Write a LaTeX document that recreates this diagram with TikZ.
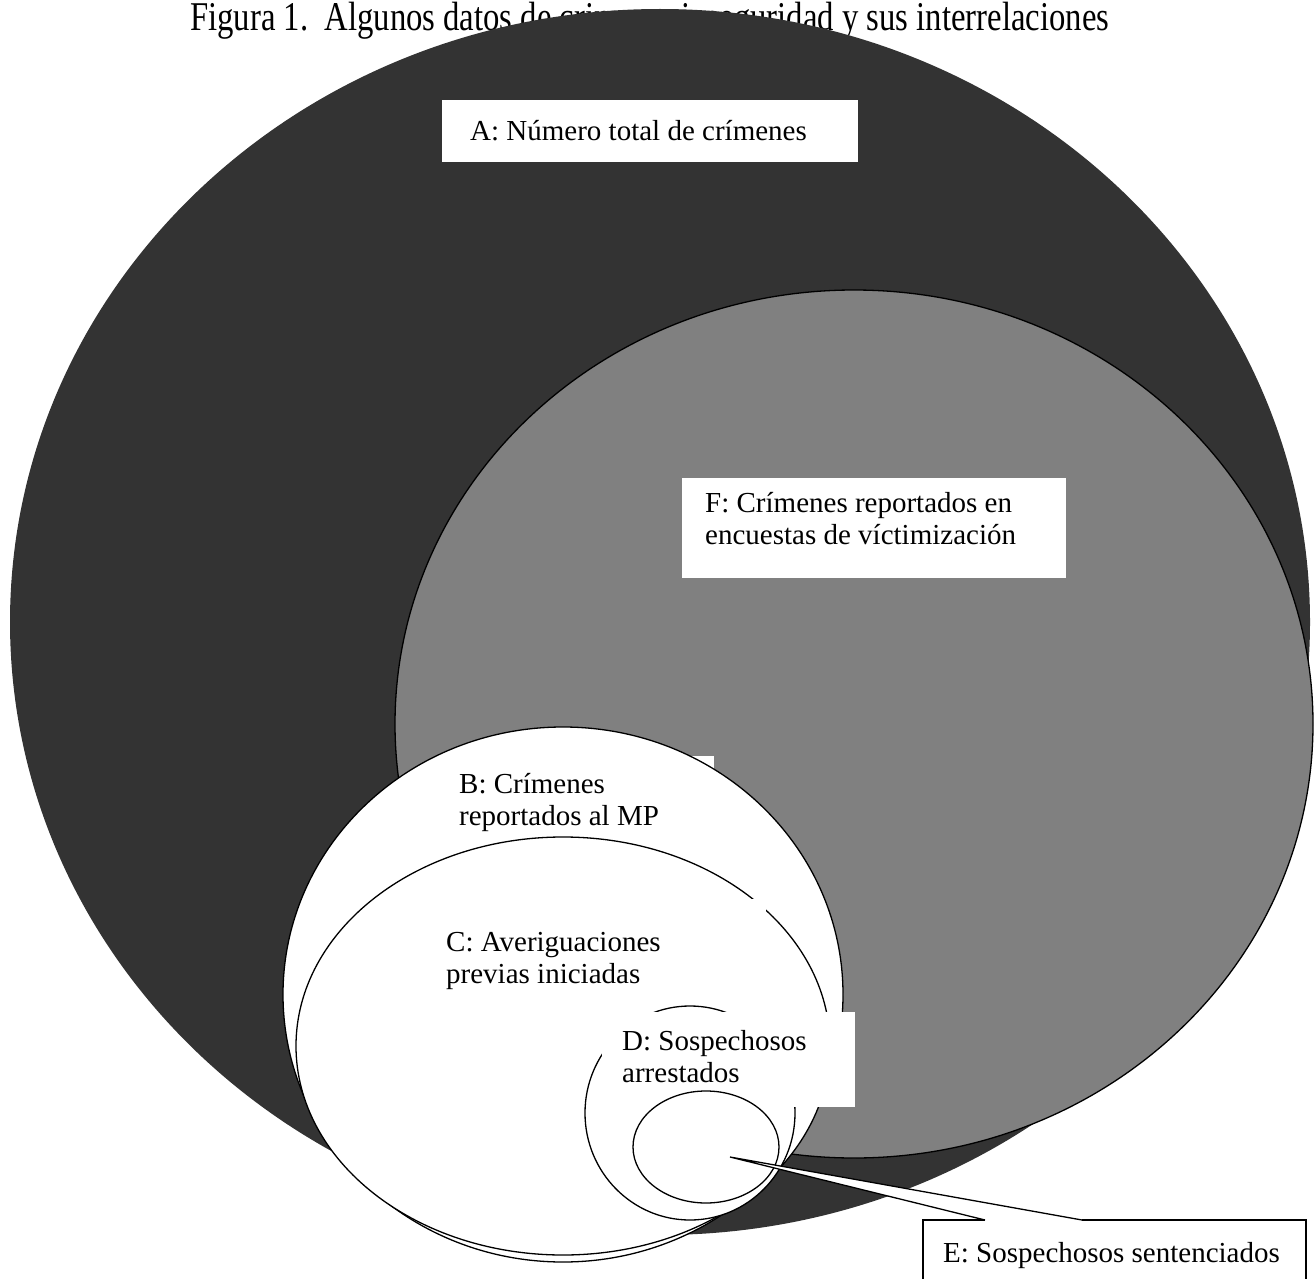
\documentclass[tikz,border=0pt]{standalone}
\usepackage{fontspec}
\setmainfont{Liberation Serif}
\usepackage{graphicx}
\definecolor{darkA}{HTML}{333333}
\definecolor{grayF}{HTML}{808080}
\begin{document}
\begin{tikzpicture}[x=1pt,y=-1pt,
  lbl/.style={anchor=base west, inner sep=0pt, font=\fontsize{29}{32}\selectfont},
  wbox/.style={fill=white, draw=none},
  ring/.style={draw=black, line width=1.3pt}]
\useasboundingbox (0,0) rectangle (1315,1279);
% title
\node[anchor=base west, inner sep=0pt, font=\fontsize{32.7}{36}\selectfont] (title) at (190,31)
  {\scalebox{1}[1.25]{Figura 1.\ \ Algunos datos de crimen e inseguridad y sus interrelaciones}};
% A
\fill[darkA] (660,622) ellipse [x radius=650pt, y radius=613pt];
\fill[wbox] (442,100) rectangle (858,162);
\node[lbl] (labA) at (470,141) {A: Número total de crímenes};
% F
\filldraw[ring, fill=grayF] (854,724) ellipse [x radius=459pt, y radius=434pt];
\fill[wbox] (682,478) rectangle (1066,578);
\node[lbl] (labF) at (705,512) {\begin{tabular}[t]{@{}l@{}}F: Crímenes reportados en\\encuestas de víctimización\end{tabular}};
% B
\fill[white] (563,994.5) ellipse [x radius=280pt, y radius=267.5pt];
\fill[wbox] (440,756) rectangle (714,835);
\draw[ring] (563,994.5) ellipse [x radius=280pt, y radius=267.5pt];
\node[lbl] (labB) at (459,793) {\begin{tabular}[t]{@{}l@{}}B: Crímenes\\reportados al MP\end{tabular}};
% C
\filldraw[ring, fill=white] (563,1046) ellipse [x radius=267pt, y radius=209pt];
\fill[wbox] (435,899) rectangle (766,995);
\node[lbl] (labC) at (446,951) {\begin{tabular}[t]{@{}l@{}}C: Averiguaciones\\previas iniciadas\end{tabular}};
% D
\filldraw[ring, fill=white] (690,1113) ellipse [x radius=105pt, y radius=107pt];
\fill[wbox] (602,1012) rectangle (855,1107);
\node[lbl] (labD) at (622,1050) {\begin{tabular}[t]{@{}l@{}}D: Sospechosos\\arrestados\end{tabular}};
% E
\filldraw[ring, fill=white] (706,1147) ellipse [x radius=73pt, y radius=56pt];
\coordinate (tip) at (730,1157);
\coordinate (c1) at (985,1220);
\coordinate (c2) at (1082,1220);
\fill[white] (923,1220) rectangle (1306,1300);
\fill[white] (tip) -- (c1) -- (c2) -- cycle;
\draw[ring, line join=miter] (c1) -- (923,1220) -- (923,1300) -- (1306,1300) -- (1306,1220) -- (c2);
\draw[ring] (c1) -- (tip) -- (c2);
\node[lbl] (labE) at (943,1262) {E: Sospechosos sentenciados};
\end{tikzpicture}
\end{document}
